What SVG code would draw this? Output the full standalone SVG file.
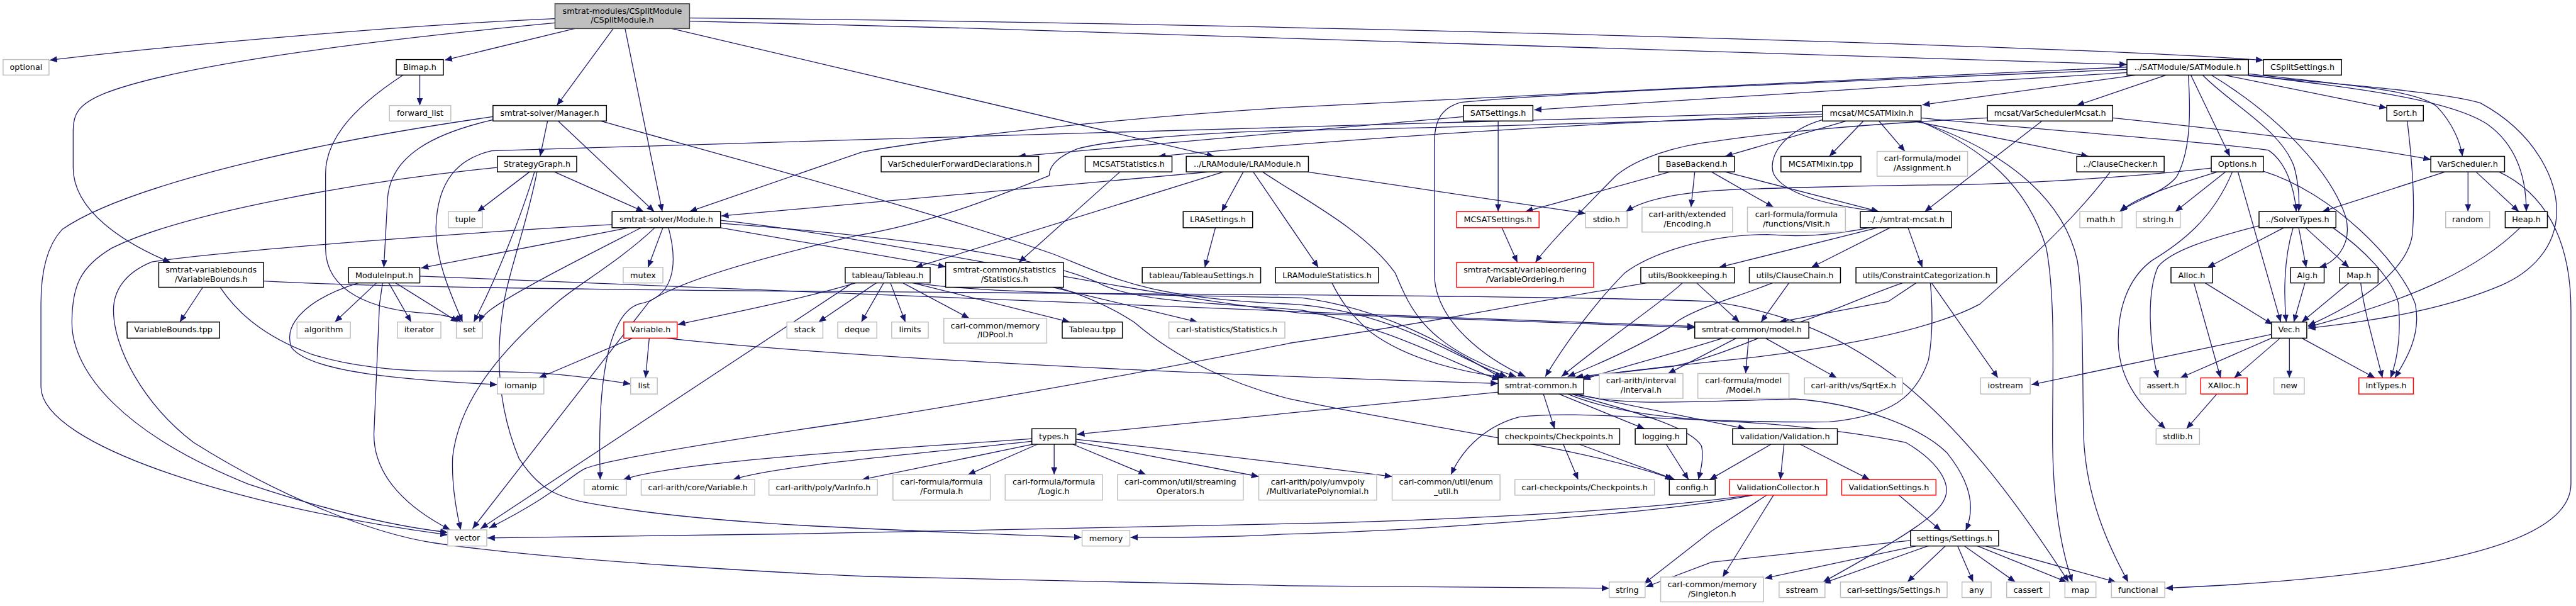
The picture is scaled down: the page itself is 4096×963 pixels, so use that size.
<svg xmlns="http://www.w3.org/2000/svg" width="4096" height="963" viewBox="0 0 4096 963">
<defs>
<marker id="a" markerUnits="userSpaceOnUse" markerWidth="12" markerHeight="10" refX="12" refY="5" orient="auto" viewBox="0 0 12 10"><path d="M0,0L12,5L0,10z" fill="#191970"/></marker>
<style>
.e path{fill:none;stroke:#191970;stroke-width:1.3;marker-end:url(#a)}
rect{fill:#fff;stroke:#000;stroke-width:1.5}
.g rect{stroke:#bfbfbf}
.r rect{stroke:#ff0000}
.root rect{fill:#bfbfbf;stroke:#404040}
text{font-family:"DejaVu Sans","Liberation Sans",sans-serif;font-size:13px;text-anchor:middle;fill:#000}
</style>
</defs>
<rect x="0" y="0" width="4096" height="963" style="fill:#fff;stroke:none"/>
<g transform="scale(0.986)">
<g id="connectors" class="e">
<path d="M895,30 C700,38 300,70 80,97"/>
<path d="M895,37 C650,60 300,100 170,150 C125,168 118,185 118,210 L118,270 C118,340 200,392 275,423"/>
<path d="M927,46 L717,97"/>
<path d="M989,46 L898,170"/>
<path d="M1008,46 L1068,341"/>
<path d="M1083,46 L1958,252"/>
<path d="M1112,34 C2000,55 3000,90 3430,104"/>
<path d="M1112,29 C2000,37 3300,72 3650,97"/>
<path d="M677,121 L677,170"/>
<path d="M650,121 C560,180 525,230 525,280 L525,400 C525,470 600,500 690,505 C720,508 735,512 744,519"/>
<path d="M883,195 L871,252"/>
<path d="M900,195 L1055,341"/>
<path d="M795,193 C700,215 630,250 625,320 L619,431"/>
<path d="M795,188 C500,230 200,300 100,370 C72,400 66,450 66,490 L66,623 C66,720 400,820 722,862"/>
<path d="M969,195 C1200,260 1500,340 1700,410 C1800,450 1850,480 2080,490 C2250,500 2350,580 2430,607"/>
<path d="M854,277 L770,341"/>
<path d="M894,277 L1038,341"/>
<path d="M862,277 C840,350 800,450 764,519"/>
<path d="M866,277 C850,360 820,440 813,486 C800,560 800,650 837,739 C870,790 900,800 940,809 C1100,840 1300,850 1744,866"/>
<path d="M802,270 C600,290 300,340 180,400 C130,430 116,460 116,520 C116,600 200,700 400,780 C550,830 650,850 722,858"/>
<path d="M1069,367 L1045,431"/>
<path d="M1014,367 L679,432"/>
<path d="M1034,367 C950,410 830,470 790,500 C780,508 775,514 773,519"/>
<path d="M1056,367 C1000,420 930,460 900,486 C800,570 740,650 730,736 C728,780 735,820 743,854"/>
<path d="M1078,367 C1095,430 1085,480 1030,490 C985,505 962,600 968,773"/>
<path d="M987,362 C800,372 400,400 245,422 C200,440 183,470 183,500 C183,560 230,650 312,713 C450,800 600,860 700,875 C900,905 1300,925 1400,929 L2080,944 L2595,948"/>
<path d="M1162,355 C1400,380 1800,470 2100,505 L2733,528"/>
<path d="M1162,367 L1525,430"/>
<path d="M1162,360 C1500,385 1700,420 1780,460 C1850,490 2000,490 2100,500 C2250,530 2350,590 2418,612"/>
<path d="M607,456 L540,519"/>
<path d="M627,456 L663,519"/>
<path d="M638,456 L739,519"/>
<path d="M617,456 L612,490 L603,700 C603,770 660,820 726,854"/>
<path d="M578,456 C500,480 455,520 470,560 C500,600 650,612 802,620"/>
<path d="M677,445 C1200,470 2000,500 2733,526"/>
<path d="M327,463 L290,519"/>
<path d="M355,463 C380,500 420,540 500,570 C560,590 640,598 700,598 C850,598 900,600 1017,619"/>
<path d="M425,453 C800,475 2400,470 2760,486 C3000,520 3150,650 3336,938"/>
<path d="M1020,545 L869,609"/>
<path d="M1047,545 L1041,609"/>
<path d="M1074,545 C1300,570 1800,600 2416,618"/>
<path d="M1380,456 C1300,480 1200,500 1093,523"/>
<path d="M1413,456 L1320,519"/>
<path d="M1425,456 L1389,519"/>
<path d="M1436,456 L1460,519"/>
<path d="M1456,456 L1563,513"/>
<path d="M1472,456 L1725,519"/>
<path d="M1375,456 L775,852"/>
<path d="M1475,456 C1600,475 1900,475 2100,480 C2250,500 2350,570 2422,609"/>
<path d="M1951,277 L1163,348"/>
<path d="M1973,277 L1476,431"/>
<path d="M2005,277 L1970,341"/>
<path d="M2021,277 L2126,431"/>
<path d="M2036,277 C2100,320 2200,370 2250,440 C2275,500 2300,560 2445,607"/>
<path d="M2108,277 L2557,344"/>
<path d="M1960,367 L1943,431"/>
<path d="M1806,277 L1643,423"/>
<path d="M2148,456 C2160,480 2175,505 2210,535 C2270,580 2360,600 2424,608"/>
<path d="M1698,463 L1931,519"/>
<path d="M1706,463 C1760,480 1800,500 1830,520 C1900,580 1990,620 2080,643 C2300,690 2550,720 2697,772"/>
<path d="M1664,707 C1500,720 1100,740 1005,773"/>
<path d="M1664,711 C1500,730 1250,750 1182,773"/>
<path d="M1666,716 L1390,773"/>
<path d="M1673,716 L1561,765"/>
<path d="M1700,716 L1700,765"/>
<path d="M1730,716 L1848,765"/>
<path d="M1735,712 L2030,768"/>
<path d="M1735,708 C1900,725 2100,750 2245,768"/>
<path d="M2416,632 L1737,700"/>
<path d="M2489,635 L2507,691"/>
<path d="M2514,635 L2652,691"/>
<path d="M2534,635 C2620,660 2726,686 2744,719 C2748,740 2742,760 2739,773"/>
<path d="M2540,635 L2815,691"/>
<path d="M2534,634 C2620,655 2700,648 2894,643 C3000,650 3100,690 3140,730 C3180,780 3185,820 3170,855"/>
<path d="M2528,635 C2600,665 2700,675 2800,680 C2900,685 3010,700 3073,713 C3120,740 3139,770 3139,790 C3139,820 3100,850 2940,938"/>
<path d="M2521,716 L2545,773"/>
<path d="M2547,716 L2701,773"/>
<path d="M2687,716 L2723,773"/>
<path d="M2856,716 L2757,773"/>
<path d="M2877,716 L2871,773"/>
<path d="M2903,716 L3015,773"/>
<path d="M3113,456 C3117,500 3117,540 3110,580 C3090,640 3050,670 2950,680 C2700,682 2550,660 2450,672 C2400,685 2360,720 2340,765"/>
<path d="M2822,798 C2600,830 2200,842 2080,844 C1800,852 1200,863 786,867"/>
<path d="M2826,798 C2700,825 2300,855 2070,861 C1980,866 1900,866 1823,866"/>
<path d="M2849,798 L2760,856 L2651,941"/>
<path d="M2860,798 L2778,930"/>
<path d="M3062,798 L3130,855"/>
<path d="M3081,871 L2760,906 L2654,946"/>
<path d="M3090,880 L2846,932"/>
<path d="M3109,880 L2940,940"/>
<path d="M3137,880 L3076,938"/>
<path d="M3157,880 L3182,938"/>
<path d="M3168,880 L3250,938"/>
<path d="M3189,880 L3333,938"/>
<path d="M3202,880 L3412,938"/>
<path d="M3095,195 C3200,240 3270,300 3300,400 C3315,480 3310,600 3310,700 C3310,800 3322,880 3342,938"/>
<path d="M3099,197 C3250,250 3330,330 3350,420 C3360,480 3358,600 3360,700 C3363,800 3400,880 3432,938"/>
<path d="M4030,277 C4100,310 4146,380 4146,500 L4146,780 C4146,880 3900,930 3492,948"/>
<path d="M2977,195 L2782,252"/>
<path d="M3005,195 L2950,252"/>
<path d="M3030,195 L3072,244"/>
<path d="M2939,193 C2880,210 2850,250 2860,280 C2880,320 2980,335 3030,341"/>
<path d="M3085,195 L3368,252"/>
<path d="M3098,190 C3300,210 3600,232 3658,242 C3685,260 3700,300 3703,341"/>
<path d="M2939,184 C2500,200 2100,230 1868,252"/>
<path d="M2939,188 C2500,200 2200,210 2080,210 C1900,215 1780,228 1737,240 C1700,255 1692,270 1692,283 C1600,320 1500,360 1380,380 C1250,410 1100,450 1047,486 L762,852"/>
<path d="M2939,180 C2500,195 2000,212 1390,225 C1000,235 850,240 793,243 C740,255 705,290 703,367 C703,420 725,470 746,519"/>
<path d="M2416,195 L2416,341"/>
<path d="M2360,188 L1642,252"/>
<path d="M3430,108 C3000,125 2500,155 2080,173 C1800,190 1500,225 1390,245 L1112,341"/>
<path d="M3430,112 C3000,130 2500,150 2356,165 C2320,175 2313,200 2313,233 L2313,440 C2313,520 2400,580 2460,607"/>
<path d="M3430,117 C3100,135 2700,165 2474,177"/>
<path d="M3444,121 L3100,169"/>
<path d="M3493,121 L3349,170"/>
<path d="M3529,121 C3532,170 3535,240 3510,285 C3490,310 3440,325 3418,341"/>
<path d="M3533,121 L3596,252"/>
<path d="M3552,121 C3600,170 3680,210 3700,270 C3708,300 3708,325 3707,341"/>
<path d="M3566,121 C3680,190 3760,280 3783,350 C3795,400 3760,425 3740,431"/>
<path d="M3587,121 L3849,174"/>
<path d="M3626,119 C3800,138 3900,146 3930,172 C3955,198 3968,230 3971,252"/>
<path d="M3626,121 C3800,142 3950,160 4011,200 C4060,235 4074,290 4074,341"/>
<path d="M3626,122 C3800,138 3950,150 4000,166 C4090,215 4123,290 4123,340 C4123,400 4080,440 4033,460 C3950,495 3850,515 3722,529"/>
<path d="M3566,271 C3400,290 3200,298 3117,298 C2950,300 2800,305 2770,307 C2700,312 2650,322 2622,341"/>
<path d="M3576,277 C3500,300 3440,320 3420,341"/>
<path d="M3589,277 L3508,341"/>
<path d="M3600,277 C3570,350 3520,390 3470,420 C3430,450 3415,500 3416,553 C3418,620 3460,660 3492,691"/>
<path d="M3609,277 L3678,519"/>
<path d="M3650,276 C3760,310 3870,420 3895,490 C3905,540 3880,580 3862,609"/>
<path d="M3683,367 L3560,431"/>
<path d="M3707,367 L3719,431"/>
<path d="M3718,367 L3788,431"/>
<path d="M3643,364 C3560,385 3500,405 3480,430 C3462,470 3465,550 3480,609"/>
<path d="M3698,367 C3682,420 3683,480 3687,519"/>
<path d="M3762,367 C3810,400 3860,450 3868,490 C3872,540 3866,580 3855,609"/>
<path d="M3538,456 L3581,609"/>
<path d="M3556,456 L3665,523"/>
<path d="M3717,456 L3699,519"/>
<path d="M3788,456 L3712,519"/>
<path d="M3807,456 C3812,500 3830,560 3842,609"/>
<path d="M3882,195 C3890,260 3895,330 3890,380 C3880,440 3800,490 3722,525"/>
<path d="M4064,367 C4000,430 3900,480 3722,527"/>
<path d="M3943,277 L3745,341"/>
<path d="M3980,277 L3980,341"/>
<path d="M3993,277 L4062,341"/>
<path d="M3663,539 L3276,620"/>
<path d="M3663,545 L3516,609"/>
<path d="M3677,545 L3603,609"/>
<path d="M3692,545 L3692,609"/>
<path d="M3712,545 L3830,609"/>
<path d="M3575,635 L3526,691"/>
<path d="M3115,456 L3222,609"/>
<path d="M3293,195 L3104,341"/>
<path d="M3205,190 C3000,200 2850,215 2770,227 C2700,235 2640,255 2606,283 C2560,330 2500,390 2476,423"/>
<path d="M3407,190 C3600,210 3800,235 3920,257"/>
<path d="M2693,277 L2460,341"/>
<path d="M2733,277 L2727,334"/>
<path d="M2760,277 L2860,334"/>
<path d="M2782,277 L3030,341"/>
<path d="M2422,367 L2447,423"/>
<path d="M3028,367 L2772,431"/>
<path d="M3048,367 L2921,431"/>
<path d="M3077,367 L3100,431"/>
<path d="M3015,367 C2950,380 2900,382 2850,378 C2750,378 2660,410 2620,440 C2570,490 2520,560 2492,607"/>
<path d="M2713,456 C2690,480 2600,540 2518,607"/>
<path d="M2736,456 L2805,519"/>
<path d="M2655,456 L2458,490 C2300,520 2100,550 2080,553 C1800,610 1500,660 1380,679 C1100,720 960,745 940,757 C910,775 890,800 789,851"/>
<path d="M2858,456 C2800,480 2720,500 2695,526 C2640,560 2570,590 2528,607"/>
<path d="M2885,456 L2840,519"/>
<path d="M3068,456 C3000,480 2960,500 2900,520 C2820,550 2770,575 2700,590 C2620,600 2560,605 2541,608"/>
<path d="M3090,456 L3045,486 L2869,519"/>
<path d="M3403,277 C3340,360 3260,430 3193,490 C3100,540 2900,570 2760,583 C2650,595 2580,603 2550,610"/>
<path d="M2820,545 L2815,602"/>
<path d="M2847,545 L2962,609"/>
<path d="M2800,545 L2690,602"/>
<path d="M2778,545 C2700,570 2600,595 2553,612"/>
</g>
<g id="n-root" class="root"><rect x="895" y="6" width="217" height="40"/><text x="1003.5" y="22">smtrat-modules/CSplitModule</text><text x="1003.5" y="37">/CSplitModule.h</text></g>
<g id="n-optional" class="g"><rect x="5" y="96" width="74" height="25"/><text x="42" y="113">optional</text></g>
<g id="n-bimap"><rect x="639" y="96" width="76" height="25"/><text x="677" y="113">Bimap.h</text></g>
<g id="n-fwdlist" class="g"><rect x="628" y="170" width="99" height="25"/><text x="677.5" y="187">forward_list</text></g>
<g id="n-manager"><rect x="795" y="170" width="183" height="25"/><text x="886.5" y="187">smtrat-solver/Manager.h</text></g>
<g id="n-strategy"><rect x="802" y="252" width="128" height="25"/><text x="866" y="269">StrategyGraph.h</text></g>
<g id="n-tuple" class="g"><rect x="723" y="341" width="55" height="26"/><text x="750.5" y="358">tuple</text></g>
<g id="n-module"><rect x="987" y="341" width="175" height="26"/><text x="1074.5" y="358">smtrat-solver/Module.h</text></g>
<g id="n-mutex" class="g"><rect x="1005" y="431" width="64" height="25"/><text x="1037" y="448">mutex</text></g>
<g id="n-varbounds"><rect x="256" y="423" width="169" height="40"/><text x="340.5" y="439">smtrat-variablebounds</text><text x="340.5" y="454">/VariableBounds.h</text></g>
<g id="n-moduleinput"><rect x="562" y="431" width="115" height="25"/><text x="619.5" y="448">ModuleInput.h</text></g>
<g id="n-vbtpp"><rect x="205" y="519" width="149" height="26"/><text x="279.5" y="536">VariableBounds.tpp</text></g>
<g id="n-algorithm" class="g"><rect x="479" y="519" width="86" height="26"/><text x="522" y="536">algorithm</text></g>
<g id="n-iterator" class="g"><rect x="641" y="519" width="70" height="26"/><text x="676" y="536">iterator</text></g>
<g id="n-set" class="g"><rect x="736" y="519" width="42" height="26"/><text x="757" y="536">set</text></g>
<g id="n-variable" class="r"><rect x="1006" y="519" width="86" height="26"/><text x="1049" y="536">Variable.h</text></g>
<g id="n-stack" class="g"><rect x="1269" y="519" width="58" height="26"/><text x="1298" y="536">stack</text></g>
<g id="n-deque" class="g"><rect x="1351" y="519" width="63" height="26"/><text x="1382.5" y="536">deque</text></g>
<g id="n-limits" class="g"><rect x="1438" y="519" width="59" height="26"/><text x="1467.5" y="536">limits</text></g>
<g id="n-idpool" class="g"><rect x="1522" y="513" width="166" height="40"/><text x="1605" y="529">carl-common/memory</text><text x="1605" y="544">/IDPool.h</text></g>
<g id="n-tabtpp"><rect x="1713" y="519" width="97" height="26"/><text x="1761.5" y="536">Tableau.tpp</text></g>
<g id="n-carlstat" class="g"><rect x="1885" y="519" width="187" height="26"/><text x="1978.5" y="536">carl-statistics/Statistics.h</text></g>
<g id="n-iomanip" class="g"><rect x="802" y="609" width="75" height="26"/><text x="839.5" y="626">iomanip</text></g>
<g id="n-list" class="g"><rect x="1017" y="609" width="43" height="26"/><text x="1038.5" y="626">list</text></g>
<g id="n-atomic" class="g"><rect x="942" y="773" width="68" height="25"/><text x="976" y="790">atomic</text></g>
<g id="n-carlvar" class="g"><rect x="1034" y="773" width="183" height="25"/><text x="1125.5" y="790">carl-arith/core/Variable.h</text></g>
<g id="n-varinfo" class="g"><rect x="1240" y="773" width="175" height="25"/><text x="1327.5" y="790">carl-arith/poly/VarInfo.h</text></g>
<g id="n-vector" class="g"><rect x="722" y="854" width="63" height="26"/><text x="753.5" y="871">vector</text></g>
<g id="n-types"><rect x="1664" y="691" width="71" height="25"/><text x="1699.5" y="708">types.h</text></g>
<g id="n-formula" class="g"><rect x="1440" y="765" width="157" height="41"/><text x="1518.5" y="781">carl-formula/formula</text><text x="1518.5" y="796">/Formula.h</text></g>
<g id="n-logic" class="g"><rect x="1621" y="765" width="157" height="41"/><text x="1699.5" y="781">carl-formula/formula</text><text x="1699.5" y="796">/Logic.h</text></g>
<g id="n-streamops" class="g"><rect x="1802" y="765" width="203" height="41"/><text x="1903.5" y="781">carl-common/util/streaming</text><text x="1903.5" y="796">Operators.h</text></g>
<g id="n-mvpoly" class="g"><rect x="2030" y="765" width="190" height="41"/><text x="2125" y="781">carl-arith/poly/umvpoly</text><text x="2125" y="796">/MultivariatePolynomial.h</text></g>
<g id="n-memory" class="g"><rect x="1745" y="855" width="77" height="25"/><text x="1783.5" y="872">memory</text></g>
<g id="n-vsfd"><rect x="1421" y="252" width="254" height="25"/><text x="1548" y="269">VarSchedulerForwardDeclarations.h</text></g>
<g id="n-mcsatstats"><rect x="1750" y="252" width="140" height="25"/><text x="1820" y="269">MCSATStatistics.h</text></g>
<g id="n-lramodule"><rect x="1913" y="252" width="197" height="25"/><text x="2011.5" y="269">../LRAModule/LRAModule.h</text></g>
<g id="n-lrasettings"><rect x="1908" y="341" width="112" height="26"/><text x="1964" y="358">LRASettings.h</text></g>
<g id="n-tableau"><rect x="1363" y="431" width="137" height="25"/><text x="1431.5" y="448">tableau/Tableau.h</text></g>
<g id="n-stats"><rect x="1525" y="423" width="190" height="40"/><text x="1620" y="439">smtrat-common/statistics</text><text x="1620" y="454">/Statistics.h</text></g>
<g id="n-tabsettings"><rect x="1842" y="431" width="191" height="25"/><text x="1937.5" y="448">tableau/TableauSettings.h</text></g>
<g id="n-lrastats"><rect x="2057" y="431" width="166" height="25"/><text x="2140" y="448">LRAModuleStatistics.h</text></g>
<g id="n-satsettings"><rect x="2360" y="170" width="112" height="25"/><text x="2416" y="187">SATSettings.h</text></g>
<g id="n-mcsatsettings" class="r"><rect x="2349" y="341" width="133" height="26"/><text x="2415.5" y="358">MCSATSettings.h</text></g>
<g id="n-stdio" class="g"><rect x="2557" y="341" width="67" height="26"/><text x="2590.5" y="358">stdio.h</text></g>
<g id="n-encoding" class="g"><rect x="2648" y="334" width="146" height="40"/><text x="2721" y="350">carl-arith/extended</text><text x="2721" y="365">/Encoding.h</text></g>
<g id="n-varorder" class="r"><rect x="2349" y="423" width="221" height="40"/><text x="2459.5" y="439">smtrat-mcsat/variableordering</text><text x="2459.5" y="454">/VariableOrdering.h</text></g>
<g id="n-basebackend"><rect x="2675" y="252" width="122" height="25"/><text x="2736" y="269">BaseBackend.h</text></g>
<g id="n-bookkeeping"><rect x="2646" y="431" width="151" height="25"/><text x="2721.5" y="448">utils/Bookkeeping.h</text></g>
<g id="n-satmodule"><rect x="3430" y="96" width="196" height="25"/><text x="3528" y="113">../SATModule/SATModule.h</text></g>
<g id="n-mcsatmixin"><rect x="2939" y="170" width="159" height="25"/><text x="3018.5" y="187">mcsat/MCSATMixin.h</text></g>
<g id="n-vsmcsat"><rect x="3205" y="170" width="202" height="25"/><text x="3306" y="187">mcsat/VarSchedulerMcsat.h</text></g>
<g id="n-mixintpp"><rect x="2872" y="252" width="129" height="25"/><text x="2936.5" y="269">MCSATMixin.tpp</text></g>
<g id="n-assignment" class="g"><rect x="3027" y="244" width="146" height="40"/><text x="3100" y="260">carl-formula/model</text><text x="3100" y="275">/Assignment.h</text></g>
<g id="n-clausechecker"><rect x="3349" y="252" width="141" height="25"/><text x="3419.5" y="269">../ClauseChecker.h</text></g>
<g id="n-visit" class="g"><rect x="2818" y="334" width="158" height="40"/><text x="2897" y="350">carl-formula/formula</text><text x="2897" y="365">/functions/Visit.h</text></g>
<g id="n-smtratmcsat"><rect x="3000" y="341" width="147" height="26"/><text x="3073.5" y="358">../../smtrat-mcsat.h</text></g>
<g id="n-mathh" class="g"><rect x="3354" y="341" width="68" height="26"/><text x="3388" y="358">math.h</text></g>
<g id="n-stringh" class="g"><rect x="3445" y="341" width="71" height="26"/><text x="3480.5" y="358">string.h</text></g>
<g id="n-clausechain"><rect x="2821" y="431" width="147" height="25"/><text x="2894.5" y="448">utils/ClauseChain.h</text></g>
<g id="n-constrcat"><rect x="2993" y="431" width="227" height="25"/><text x="3106.5" y="448">utils/ConstraintCategorization.h</text></g>
<g id="n-csplitsettings"><rect x="3650" y="96" width="126" height="25"/><text x="3713" y="113">CSplitSettings.h</text></g>
<g id="n-sort"><rect x="3849" y="170" width="59" height="25"/><text x="3878.5" y="187">Sort.h</text></g>
<g id="n-options"><rect x="3566" y="252" width="84" height="25"/><text x="3608" y="269">Options.h</text></g>
<g id="n-varscheduler"><rect x="3920" y="252" width="119" height="25"/><text x="3979.5" y="269">VarScheduler.h</text></g>
<g id="n-solvertypes"><rect x="3643" y="341" width="124" height="26"/><text x="3705" y="358">../SolverTypes.h</text></g>
<g id="n-random" class="g"><rect x="3944" y="341" width="71" height="26"/><text x="3979.5" y="358">random</text></g>
<g id="n-heap"><rect x="4040" y="341" width="68" height="26"/><text x="4074" y="358">Heap.h</text></g>
<g id="n-alloc"><rect x="3501" y="431" width="67" height="25"/><text x="3534.5" y="448">Alloc.h</text></g>
<g id="n-alg"><rect x="3694" y="431" width="54" height="25"/><text x="3721" y="448">Alg.h</text></g>
<g id="n-maph"><rect x="3773" y="431" width="62" height="25"/><text x="3804" y="448">Map.h</text></g>
<g id="n-model"><rect x="2733" y="519" width="184" height="26"/><text x="2825" y="536">smtrat-common/model.h</text></g>
<g id="n-common"><rect x="2416" y="609" width="138" height="26"/><text x="2485" y="626">smtrat-common.h</text></g>
<g id="n-interval" class="g"><rect x="2579" y="602" width="135" height="40"/><text x="2646.5" y="618">carl-arith/interval</text><text x="2646.5" y="633">/Interval.h</text></g>
<g id="n-cmodel" class="g"><rect x="2738" y="602" width="147" height="40"/><text x="2811.5" y="618">carl-formula/model</text><text x="2811.5" y="633">/Model.h</text></g>
<g id="n-checkpoints"><rect x="2416" y="691" width="196" height="25"/><text x="2514" y="708">checkpoints/Checkpoints.h</text></g>
<g id="n-logging"><rect x="2637" y="691" width="83" height="25"/><text x="2678.5" y="708">logging.h</text></g>
<g id="n-enumutil" class="g"><rect x="2245" y="765" width="174" height="41"/><text x="2332" y="781">carl-common/util/enum</text><text x="2332" y="796">_util.h</text></g>
<g id="n-carlcp" class="g"><rect x="2443" y="773" width="225" height="25"/><text x="2555.5" y="790">carl-checkpoints/Checkpoints.h</text></g>
<g id="n-config"><rect x="2692" y="773" width="74" height="25"/><text x="2729" y="790">config.h</text></g>
<g id="n-string" class="g"><rect x="2595" y="938" width="58" height="25"/><text x="2624" y="955">string</text></g>
<g id="n-singleton" class="g"><rect x="2678" y="930" width="166" height="40"/><text x="2761" y="946">carl-common/memory</text><text x="2761" y="961">/Singleton.h</text></g>
<g id="n-sqrtex" class="g"><rect x="2910" y="609" width="158" height="26"/><text x="2989" y="626">carl-arith/vs/SqrtEx.h</text></g>
<g id="n-iostream" class="g"><rect x="3194" y="609" width="80" height="26"/><text x="3234" y="626">iostream</text></g>
<g id="n-validation"><rect x="2794" y="691" width="169" height="25"/><text x="2878.5" y="708">validation/Validation.h</text></g>
<g id="n-valcollector" class="r"><rect x="2789" y="773" width="157" height="25"/><text x="2867.5" y="790">ValidationCollector.h</text></g>
<g id="n-valsettings" class="r"><rect x="2970" y="773" width="152" height="25"/><text x="3046" y="790">ValidationSettings.h</text></g>
<g id="n-settings"><rect x="3081" y="855" width="142" height="25"/><text x="3152" y="872">settings/Settings.h</text></g>
<g id="n-sstream" class="g"><rect x="2869" y="938" width="74" height="25"/><text x="2906" y="955">sstream</text></g>
<g id="n-carlsettings" class="g"><rect x="2968" y="938" width="172" height="25"/><text x="3054" y="955">carl-settings/Settings.h</text></g>
<g id="n-any" class="g"><rect x="3164" y="938" width="47" height="25"/><text x="3187.5" y="955">any</text></g>
<g id="n-cassert" class="g"><rect x="3236" y="938" width="69" height="25"/><text x="3270.5" y="955">cassert</text></g>
<g id="n-map" class="g"><rect x="3330" y="938" width="50" height="25"/><text x="3355" y="955">map</text></g>
<g id="n-functional" class="g"><rect x="3405" y="938" width="86" height="25"/><text x="3448" y="955">functional</text></g>
<g id="n-vec"><rect x="3663" y="519" width="57" height="26"/><text x="3691.5" y="536">Vec.h</text></g>
<g id="n-asserth" class="g"><rect x="3451" y="609" width="74" height="26"/><text x="3488" y="626">assert.h</text></g>
<g id="n-xalloc" class="r"><rect x="3549" y="609" width="75" height="26"/><text x="3586.5" y="626">XAlloc.h</text></g>
<g id="n-new" class="g"><rect x="3667" y="609" width="49" height="26"/><text x="3691.5" y="626">new</text></g>
<g id="n-inttypes" class="r"><rect x="3804" y="609" width="88" height="26"/><text x="3848" y="626">IntTypes.h</text></g>
<g id="n-stdlib" class="g"><rect x="3477" y="691" width="70" height="25"/><text x="3512" y="708">stdlib.h</text></g>
</g>
</svg>
